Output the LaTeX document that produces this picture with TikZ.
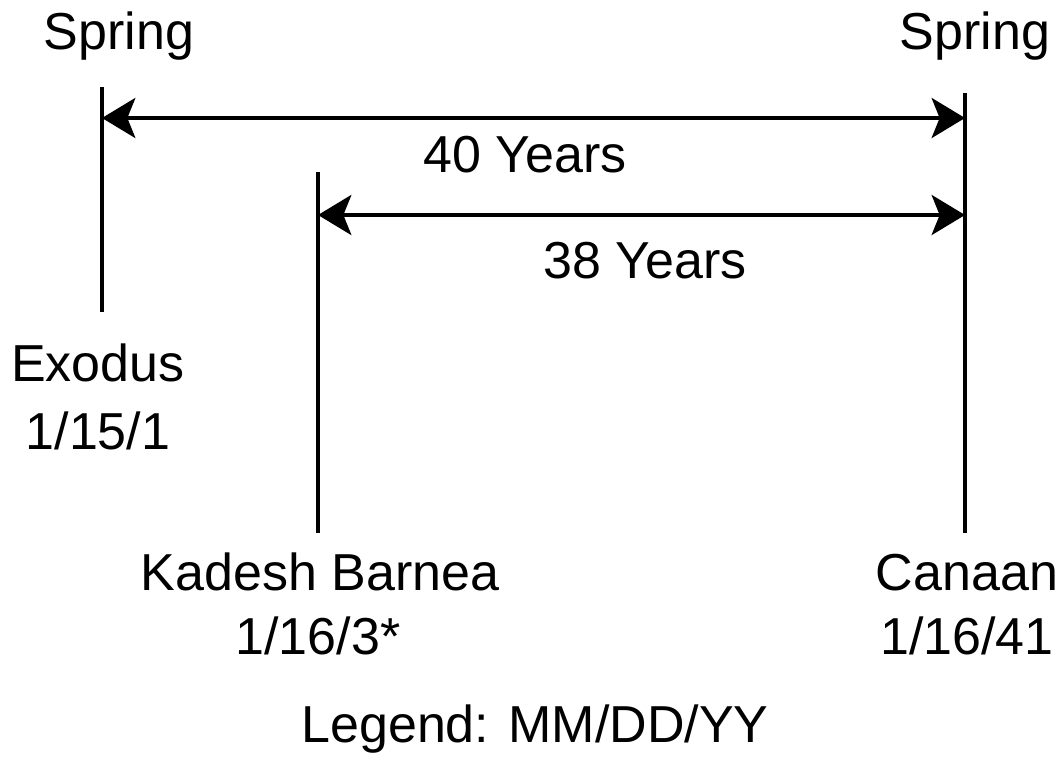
\documentclass[tikz,border=0pt]{standalone}
\usepackage{fontspec}
\setmainfont{Liberation Sans}
\usetikzlibrary{arrows.meta}
\begin{document}
\begin{tikzpicture}[x=0.75pt,y=-0.75pt,
  lbl/.style={anchor=base,inner sep=0pt,font=\fontsize{39}{45}\selectfont},
  tick/.style={line width=3pt},
  span/.style={line width=3pt,{Stealth[length=25pt,width=30pt,inset=6pt]}-{Stealth[length=25pt,width=30pt,inset=6pt]}}]
\useasboundingbox (0,0) rectangle (1061,757);
% vertical markers
\coordinate (exT) at (102,87);
\coordinate (exB) at (102,312);
\coordinate (kbT) at (318,172);
\coordinate (kbB) at (318,533);
\coordinate (caT) at (965,93);
\coordinate (caB) at (965,533);
\draw[tick] (exT) -- (exB);
\draw[tick] (kbT) -- (kbB);
\draw[tick] (caT) -- (caB);
% arrows
\coordinate (a1L) at (102,118);
\coordinate (a1R) at (965,118);
\coordinate (a2L) at (318,215);
\coordinate (a2R) at (965,215);
\draw[span] (a1L) -- (a1R);
\draw[span] (a2L) -- (a2R);
% labels
\node[lbl] (spL) at (119,49) {Spring};
\node[lbl] (spR) at (975,49) {Spring};
\node[lbl] (y40) at (525,172) {40 Years};
\node[lbl] (y38) at (645,278) {38 Years};
\node[lbl] (ex) at (98,381) {Exodus};
\node[lbl] (exd) at (98,449) {1/15/1};
\node[lbl] (kb) at (320,590) {Kadesh Barnea};
\node[lbl] (kbd) at (318,654) {1/16/3*};
\node[lbl] (ca) at (967,590) {Canaan};
\node[lbl] (cad) at (967,654) {1/16/41};
\node[lbl] (leg) at (535,742) {Legend: MM/DD/YY};
\end{tikzpicture}
\end{document}
